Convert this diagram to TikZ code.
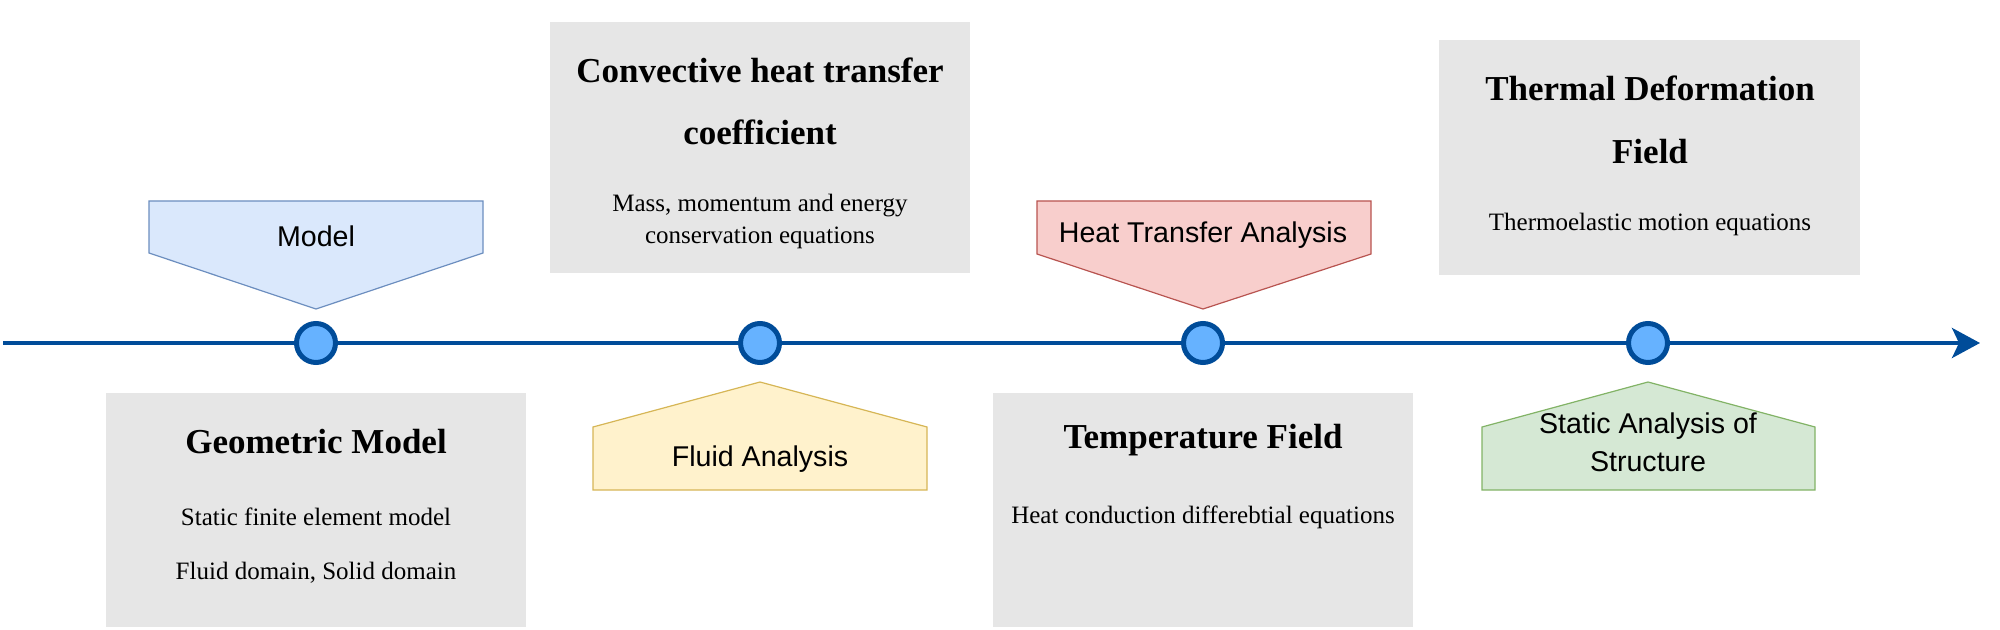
\documentclass[tikz,border=0pt]{standalone}
\usepackage{fontspec}
\setmainfont{Liberation Serif}
\newfontfamily\arialf{Liberation Sans}
\usetikzlibrary{arrows.meta}
\definecolor{lineblue}{HTML}{004C99}
\definecolor{dotfill}{HTML}{66B2FF}
\definecolor{graybox}{HTML}{E6E6E6}
\definecolor{bluefill}{HTML}{DAE8FC}
\definecolor{bluedraw}{HTML}{6C8EBF}
\definecolor{redfill}{HTML}{F8CECC}
\definecolor{reddraw}{HTML}{B85450}
\definecolor{yelfill}{HTML}{FFF2CC}
\definecolor{yeldraw}{HTML}{D6B656}
\definecolor{grnfill}{HTML}{D5E8D4}
\definecolor{grndraw}{HTML}{82B366}
\tikzset{
  gbox/.style={fill=graybox, draw=none, anchor=north west, inner sep=0pt},
  titletext/.style={font=\fontsize{17.5}{21}\selectfont\bfseries, inner sep=0pt},
  subtext/.style={font=\fontsize{12.5}{15}\selectfont, inner sep=0pt},
  labtext/.style={font=\arialf\fontsize{14.3}{17}\selectfont, inner sep=0pt},
  dotnode/.style={circle, draw=lineblue, fill=dotfill, line width=2.5pt, minimum size=19.5pt, inner sep=0pt},
  penta/.style={line width=0.6pt},
  timeline/.style={draw=lineblue, line width=2pt, -{Stealth[length=14pt,width=15pt,inset=3.5pt]}}
}
\begin{document}
\begin{tikzpicture}[x=0.5pt,y=-0.5pt]
\path[use as bounding box] (0,0) rectangle (2000,630);

% gray boxes
\node[gbox, minimum width=210pt, minimum height=117pt] (b1) at (106,393) {};
\node[gbox, minimum width=210pt, minimum height=125.5pt] (b2) at (550,22) {};
\node[gbox, minimum width=210pt, minimum height=117pt] (b3) at (993,393) {};
\node[gbox, minimum width=210.5pt, minimum height=117.5pt] (b4) at (1439,40) {};

% box texts
\node[titletext] (b1t) at (316,442) {Geometric Model};
\node[subtext] (b1s1) at (316,517) {Static finite element model};
\node[subtext] (b1s2) at (316,573) {Fluid domain, Solid domain};

\node[titletext] (b2t1) at (760,70) {Convective heat transfer};
\node[titletext] (b2t2) at (760,132) {coefficient};
\node[subtext] (b2s1) at (760,206) {Mass, momentum and energy};
\node[subtext] (b2s2) at (760,238) {conservation equations};

\node[titletext] (b3t) at (1203,440) {Temperature Field};
\node[subtext] (b3s) at (1203,517) {Heat conduction differebtial equations};

\node[titletext] (b4t1) at (1650,88) {Thermal Deformation};
\node[titletext] (b4t2) at (1650,152) {Field};
\node[subtext] (b4s) at (1650,224) {Thermoelastic motion equations};

% pentagons
\draw[penta, fill=bluefill, draw=bluedraw] (149,201) -- (483,201) -- (483,253) -- (316,309) -- (149,253) -- cycle;
\node[labtext] (p1) at (316,236) {Model};

\draw[penta, fill=redfill, draw=reddraw] (1037,201) -- (1371,201) -- (1371,254) -- (1203,309) -- (1037,254) -- cycle;
\node[labtext] (p3) at (1203,235) {Heat Transfer Analysis};

\draw[penta, fill=yelfill, draw=yeldraw] (593,490) -- (927,490) -- (927,427) -- (760,382) -- (593,427) -- cycle;
\node[labtext] (p2) at (760,459) {Fluid Analysis};

\draw[penta, fill=grnfill, draw=grndraw] (1482,490) -- (1815,490) -- (1815,427) -- (1648,382) -- (1482,427) -- cycle;
\node[labtext] (p4a) at (1648,426) {Static Analysis of};
\node[labtext] (p4b) at (1648,462) {Structure};

% timeline
\coordinate (ls) at (3,343);
\coordinate (le) at (1980,343);
\draw[timeline] (ls) -- (le);

\node[dotnode] (c1) at (316,343) {};
\node[dotnode] (c2) at (760,343) {};
\node[dotnode] (c3) at (1203,343) {};
\node[dotnode] (c4) at (1648,343) {};
\end{tikzpicture}
\end{document}
